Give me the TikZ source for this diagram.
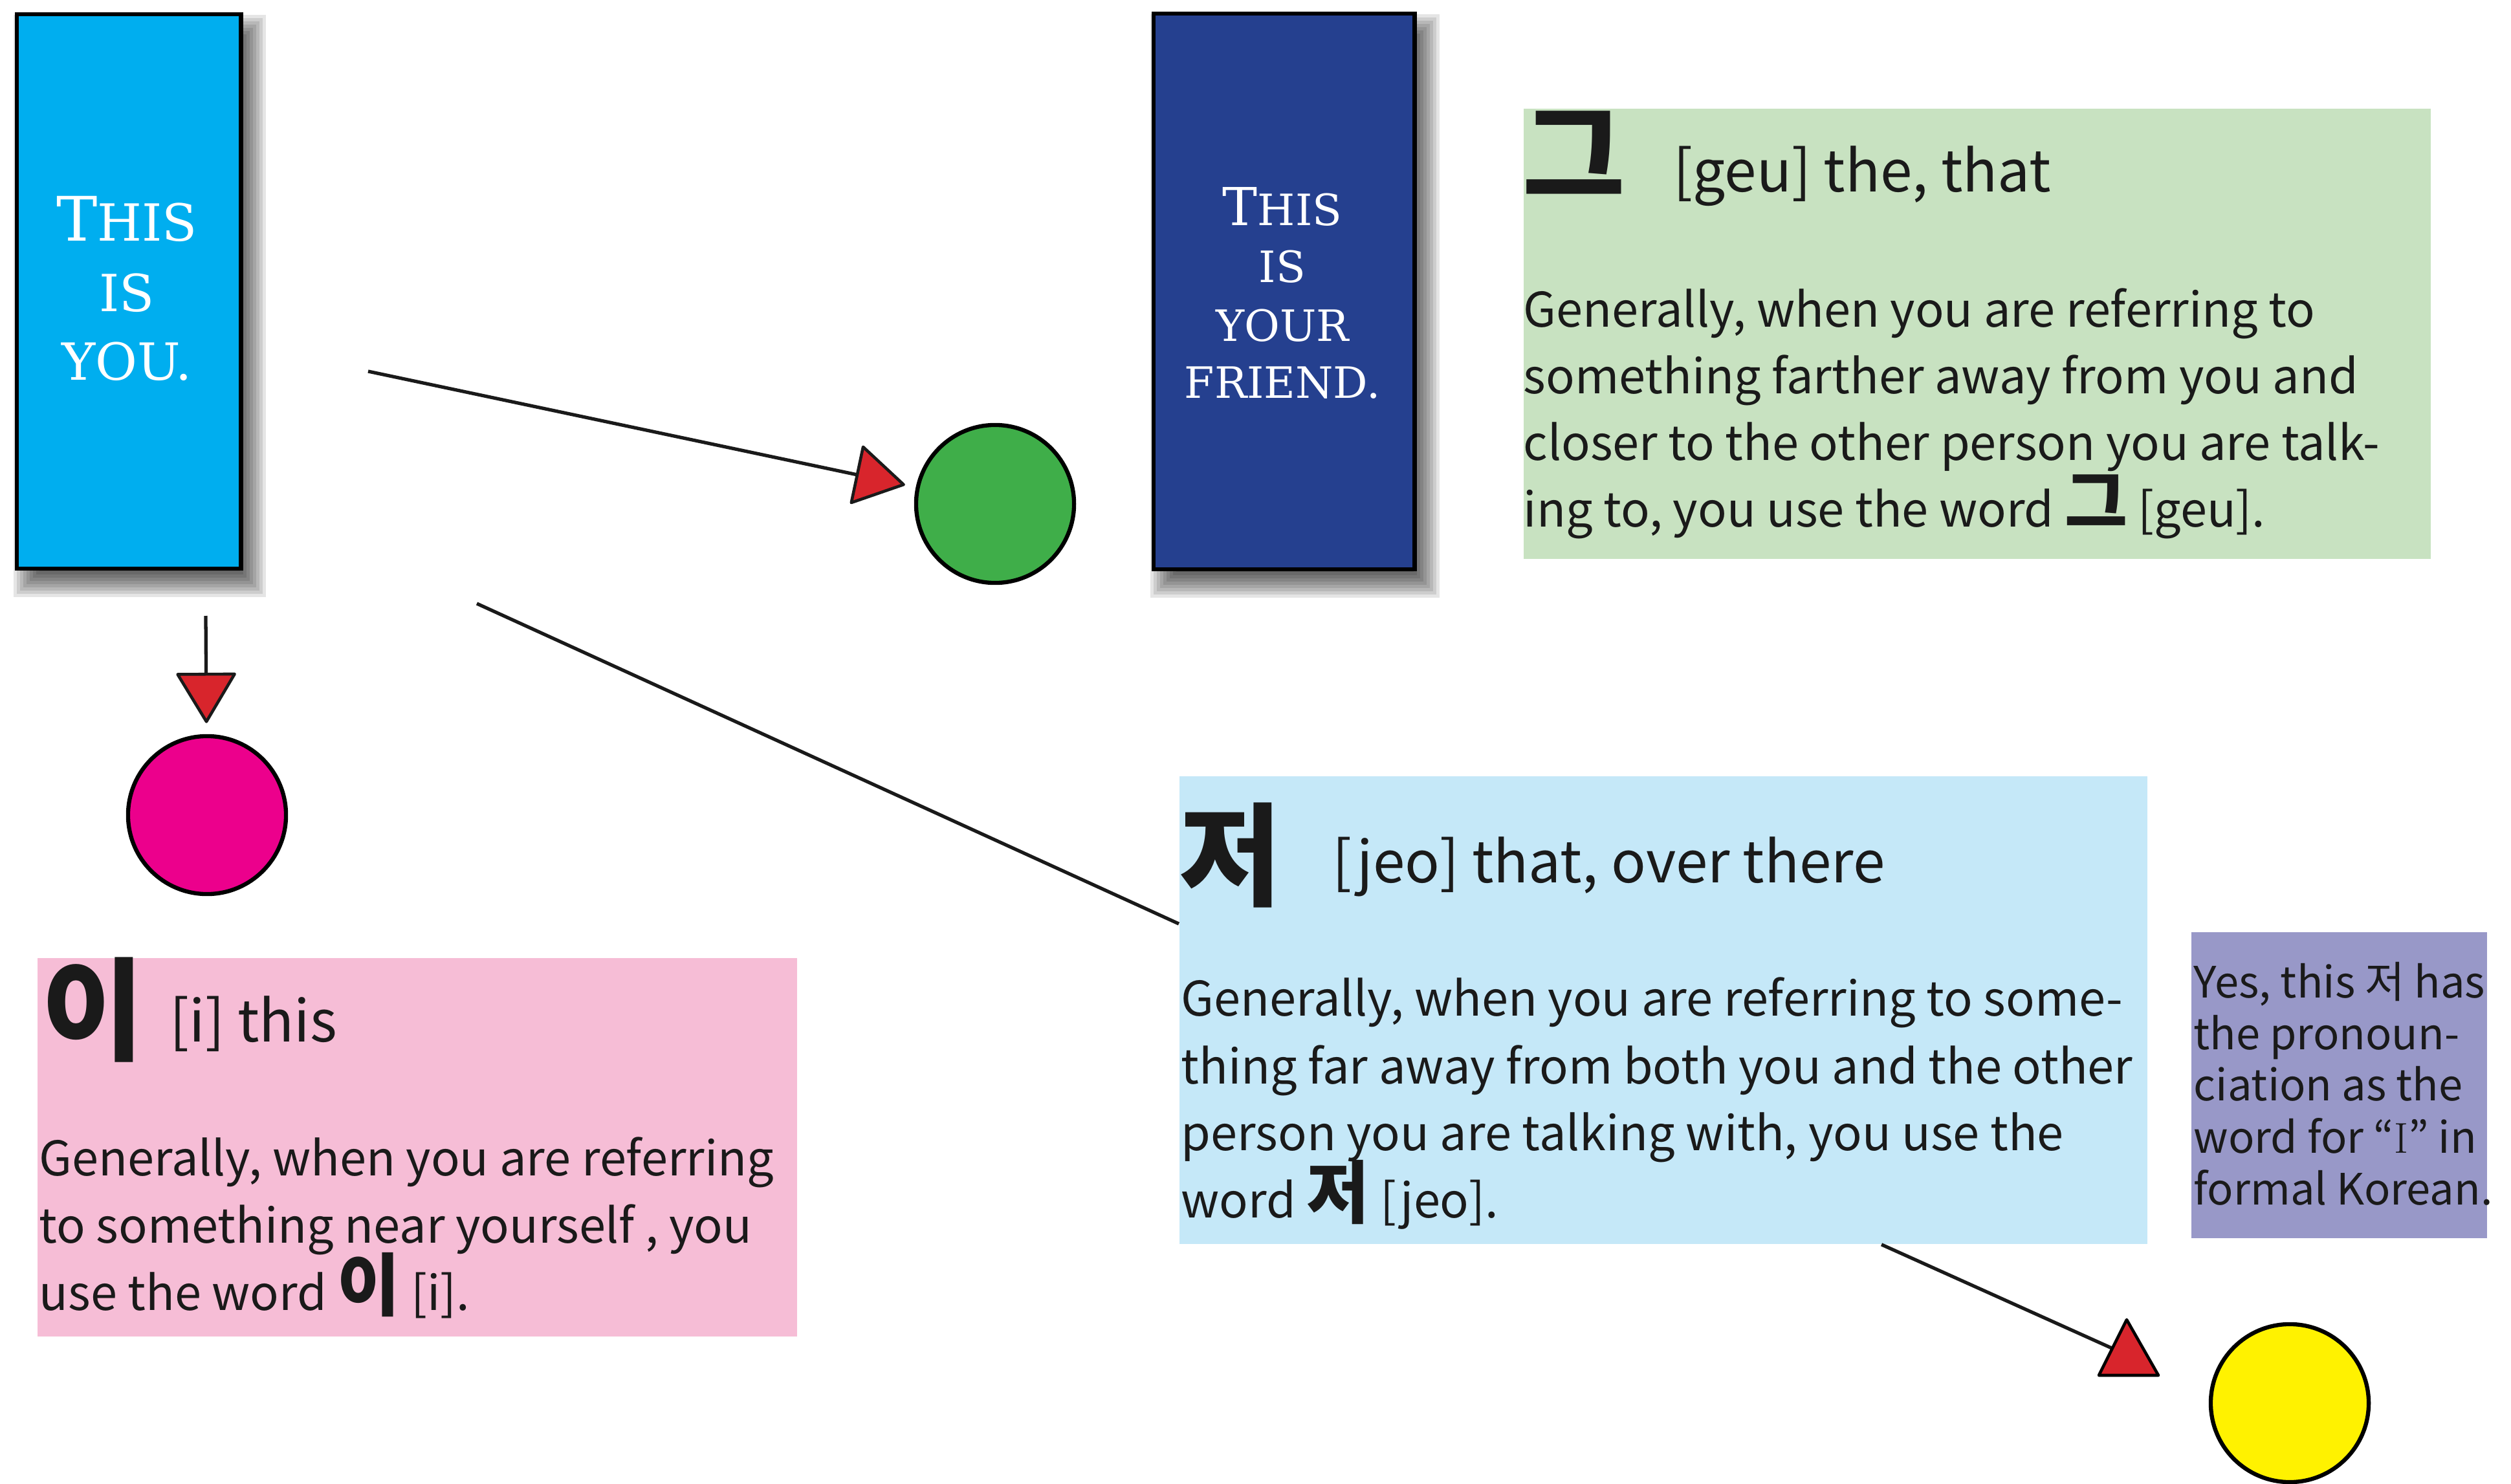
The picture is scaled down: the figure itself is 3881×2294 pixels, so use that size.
\documentclass[tikz,border=0pt]{standalone}
\usepackage{fontspec}
\newfontfamily\kr{Noto Sans CJK KR}
\newfontfamily\cardfont{DejaVu Serif}
\usetikzlibrary{arrows.meta,calc}
\definecolor{cyanbox}{RGB}{0,174,239}
\definecolor{navybox}{RGB}{37,64,143}
\definecolor{greendot}{RGB}{63,174,73}
\definecolor{pinkdot}{RGB}{236,0,140}
\definecolor{yellowdot}{RGB}{255,242,0}
\definecolor{arrowred}{RGB}{216,37,44}
\definecolor{greenpanel}{RGB}{200,226,193}
\definecolor{pinkpanel}{RGB}{246,189,214}
\definecolor{bluepanel}{RGB}{197,232,248}
\definecolor{purplepanel}{RGB}{152,152,200}
\definecolor{ink}{RGB}{26,26,26}
\newcommand{\inko}[1]{{\bfseries\fontsize{30}{30}\selectfont #1}}
\begin{document}
\begin{tikzpicture}[x=0.01cm,y=-0.01cm,
  card/.style={draw=black,line width=1.8pt,inner sep=0,anchor=north west},
  panel/.style={inner sep=0,anchor=north west},
  dot/.style={circle,draw=black,line width=1.8pt,minimum size=2.44cm,inner sep=0},
  conn/.style={line width=1.5pt,draw=ink},
  tip/.style={-{Triangle[length=0.8cm,width=0.95cm,fill=arrowred,line width=1.3pt,round]}},
  headtri/.style={fill=arrowred,draw=black,line width=1.3pt,line join=round},
  cardtxt/.style={inner sep=0,anchor=base,text=white,font=\cardfont},
  body/.style={inner sep=0,anchor=base west,text=ink,font=\kr\fontsize{21}{27}\selectfont},
  head/.style={inner sep=0,anchor=base west,text=ink,font=\kr\fontsize{25.3}{30}\selectfont},
  bigko/.style={inner sep=0,anchor=base west,text=ink,font=\kr\bfseries\fontsize{49}{49}\selectfont},
  note/.style={inner sep=0,anchor=base west,text=ink,font=\kr\fontsize{19}{22}\selectfont}]
\useasboundingbox (0,0) rectangle (3881,2294);
\fill[white] (0,0) rectangle (3881,2294);

% shadows (drawn before the cards)
\coordinate (youNW) at (23,19);
\coordinate (youSE) at (369,875);
\coordinate (friNW) at (1780,18);
\coordinate (friSE) at (2183,876);
\foreach \e in {0,5,...,40} {
  \fill[black,opacity=0.1] ($(youNW)+(38-\e,44-\e)$) rectangle ($(youSE)+(2+\e,8+\e)$);
  \fill[black,opacity=0.1] ($(friNW)+(38-\e,44-\e)$) rectangle ($(friSE)+(2+\e,8+\e)$);
}
% cards
\path (youNW) node[card,fill=cyanbox,minimum width=3.46cm,minimum height=8.56cm] (you) {};
\path (friNW) node[card,fill=navybox,minimum width=4.03cm,minimum height=8.58cm] (friend) {};

% panels
\path (2354,167) node[panel,fill=greenpanel,minimum width=14.01cm,minimum height=6.96cm] (geu) {};
\path (57,1480) node[panel,fill=pinkpanel,minimum width=11.74cm,minimum height=5.85cm] (ii) {};
\path (1822,1199) node[panel,fill=bluepanel,minimum width=14.95cm,minimum height=7.23cm] (jeo) {};
\path (3386,1440) node[panel,fill=purplepanel,minimum width=4.57cm,minimum height=4.73cm] (yes) {};

% dots
\node[dot,fill=greendot] (green) at (1538,779) {};
\node[dot,fill=pinkdot] (pink) at (320,1260) {};
\node[dot,fill=yellowdot] (yellow) at (3539,2169) {};

% connectors
\coordinate (a1s) at (569,574);
\coordinate (a2s) at (318,952);
\coordinate (l3s) at (737,933);
\coordinate (l3e) at ($(jeo.north west)+(0,229)$);
\coordinate (a4s) at ($(jeo.south west)+(1086,0)$);
\coordinate (a4e) at (3264,2084);
\draw[conn,tip,shorten >=0.17cm] (a1s) -- (green);
\draw[conn,tip,shorten >=0.17cm] (a2s) -- (pink);
\draw[conn] (l3s) -- (l3e);
\draw[conn] (a4s) -- (a4e);
\filldraw[headtri] (3287,2040) -- (3336,2126) -- (3244,2126) -- cycle;

% card texts
\node[cardtxt] (y1) at (196,373) {{\fontsize{27}{27}\selectfont T}{\fontsize{22.5}{22.5}\selectfont HIS}};
\node[cardtxt] (y2) at (196,481) {\fontsize{22.5}{22.5}\selectfont IS};
\node[cardtxt] (y3) at (196,587) {\fontsize{22.5}{22.5}\selectfont YOU.};
\node[cardtxt] (f1) at (1982,348) {{\fontsize{23}{23}\selectfont T}{\fontsize{19}{19}\selectfont HIS}};
\node[cardtxt] (f2) at (1982,436) {\fontsize{19}{19}\selectfont IS};
\node[cardtxt] (f3) at (1982,527) {\fontsize{19}{19}\selectfont YOUR};
\node[cardtxt] (f4) at (1982,615) {\fontsize{19}{19}\selectfont FRIEND.};

% geu panel
\node[bigko] (gk) at (2353,304) {그};
\node[head] (gh) at (2586,297) {[geu] the, that};
\node[body] (g1) at (2354,505) {Generally, when you are referring to};
\node[body] (g2) at (2354,608) {something farther away from you and};
\node[body] (g3) at (2354,711) {closer to the other person you are talk-};
\node[body] (g4) at (2354,814) {ing to, you use the word \inko{그} [geu].};

% i panel
\node[bigko] (ik) at (64,1625) {이};
\node[head] (ih) at (262,1610) {[i] this};
\node[body] (i1) at (60,1817) {Generally, when you are referring};
\node[body] (i2) at (60,1921) {to something near yourself , you};
\node[body] (i3) at (60,2025) {use the word \inko{이} [i].};

% jeo panel
\node[bigko] (jk) at (1822,1386) {저};
\node[head] (jh) at (2059,1364) {[jeo] that, over there};
\node[body] (j1) at (1825,1570) {Generally, when you are referring to some-};
\node[body] (j2) at (1825,1675) {thing far away from both you and the other};
\node[body] (j3) at (1825,1778) {person you are talking with, you use the};
\node[body] (j4) at (1825,1882) {word \inko{저} [jeo].};

% purple note
\node[note] (n1) at (3390,1542) {Yes, this 저 has};
\node[note] (n2) at (3390,1622) {the pronoun-};
\node[note] (n3) at (3390,1701) {ciation as the};
\node[note] (n4) at (3390,1782) {word for “{\rmfamily I}” in};
\node[note] (n5) at (3390,1862) {formal Korean.};
\end{tikzpicture}
\end{document}
